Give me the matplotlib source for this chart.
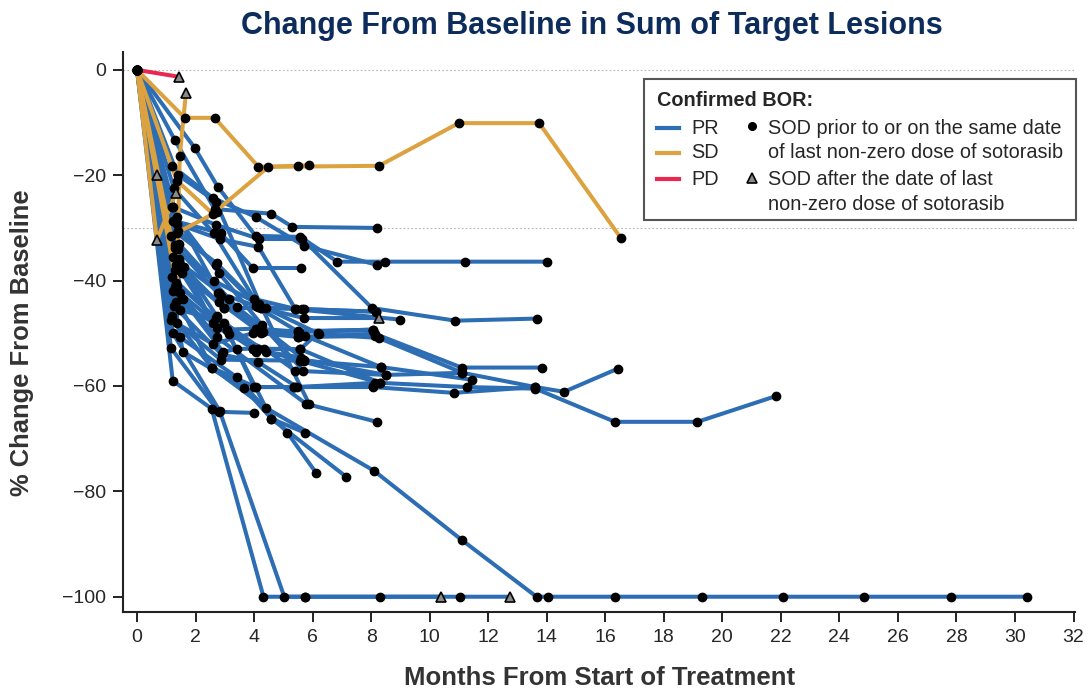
import matplotlib.pyplot as plt
from matplotlib.lines import Line2D
from matplotlib.patches import Rectangle

# ---------------------
# DATA  (months from start, % change from baseline)
# ---------------------
pr_months = [
    [0, 1.29, 2.65, 4.59, 5.31, 8.20],
    [0, 1.97, 2.76, 4.05, 5.58, 6.84, 8.47, 11.22, 14.01],
    [0, 1.19, 2.59, 4.05, 5.71, 8.20],
    [0, 1.22, 2.69, 4.18, 5.65, 8.03, 10.88, 13.67],
    [0, 1.22, 2.86, 3.95, 5.61],
    [0, 1.36, 2.82, 4.15, 5.41, 8.98],
    [0, 1.36, 2.72, 4.25, 5.71, 8.27],
    [0, 1.29, 2.76, 4.05, 5.51, 8.06],
    [0, 1.39, 2.86, 4.08, 5.51, 8.13, 11.09, 13.84],
    [0, 1.22, 2.96, 4.39, 6.22, 8.27, 11.12, 13.61, 14.59, 16.43],
    [0, 1.43, 2.72, 4.12, 5.58, 8.30, 11.26, 13.61, 16.33, 19.15, 21.84],
    [0, 1.60, 2.59, 3.95, 5.71, 8.33, 11.43],
    [0, 1.53, 2.72, 4.35, 5.41, 8.50],
    [0, 1.19, 3.06, 4.01, 5.37, 8.06, 10.82, 13.61],
    [0, 1.46, 3.13, 4.59, 5.75],
    [0, 1.22, 2.55, 4.32, 5.74, 8.29, 10.39],
    [0, 1.16, 2.79, 3.98],
    [0, 1.22, 2.82, 5.03, 5.74, 11.05, 12.75],
    [0, 1.19, 2.55, 4.39, 8.10, 11.09, 13.65, 14.05, 16.34, 19.32, 22.08, 24.84, 27.82, 30.41],
    [0, 1.29, 2.72, 5.78, 8.20],
    [0, 1.46, 3.40, 5.14, 6.12],
    [0, 1.56, 3.64, 4.59, 7.14],
    [0, 1.39, 2.69, 4.25, 5.88],
    [0, 1.33, 2.96, 4.25, 5.71, 8.16],
    [0, 1.33, 3.06, 4.08, 5.54, 8.06],
    [0, 1.56, 2.93, 3.40, 3.95, 5.58, 6.19],
    [0, 1.39, 2.69, 4.15, 5.65, 8.16],
    [0, 1.29, 2.79, 4.25, 5.51, 8.13],
    [0, 1.46, 2.96, 4.39, 5.61],
    [0, 1.22, 2.55, 4.05, 5.37, 8.06],
    [0, 1.36, 2.86, 5.58, 8.30],
    [0, 1.43, 3.40, 5.71, 8.50, 11.12],
    [0, 1.26, 2.62, 4.01, 5.44],
    [0, 1.19, 2.79, 4.22, 5.58],
    [0, 1.33, 2.69, 4.08],
    [0, 1.16, 2.59, 3.95, 5.51, 8.06],
    [0, 1.43, 3.13, 4.32, 5.75, 8.33],
    [0, 1.29, 2.62, 4.18],
    [0, 1.36, 2.79, 4.28, 5.68],
    [0, 1.26, 2.89, 4.15, 5.47, 8.13],
]
pr_change = [
    [0, -13.3, -26.4, -27.3, -29.8, -30.0],
    [0, -14.8, -22.2, -31.5, -31.7, -36.4, -36.4, -36.4, -36.4],
    [0, -18.2, -24.3, -27.9, -33.4, -37.0],
    [0, -26.0, -29.4, -32.1, -32.1, -45.2, -47.6, -47.2],
    [0, -28.6, -31.0, -37.6, -37.6],
    [0, -29.2, -32.1, -33.6, -45.4, -47.4],
    [0, -31.0, -36.7, -45.2, -47.1, -47.1],
    [0, -33.2, -42.3, -44.8, -49.7, -49.3],
    [0, -34.0, -43.0, -49.1, -50.7, -50.1, -56.5, -56.5],
    [0, -35.5, -45.2, -45.2, -50.1, -50.9, -57.5, -60.2, -61.1, -56.7],
    [0, -35.9, -46.7, -53.0, -53.0, -59.4, -60.2, -60.5, -66.8, -66.8, -61.9],
    [0, -37.4, -48.0, -52.9, -55.2, -56.4, -58.8],
    [0, -38.5, -49.0, -52.9, -57.1, -57.9],
    [0, -39.3, -49.3, -60.2, -60.2, -60.2, -61.3, -60.2],
    [0, -42.3, -50.1, -66.2, -68.9],
    [0, -59.0, -64.3, -100, -100, -100, -100],
    [0, -52.8, -64.9, -65.1],
    [0, -49.9, -64.7, -100, -100, -100, -100],
    [0, -46.7, -56.5, -64.1, -76.1, -89.2, -100, -100, -100, -100, -100, -100, -100, -100],
    [0, -41.2, -50.7, -63.4, -66.8],
    [0, -50.7, -58.3, -68.9, -76.5],
    [0, -53.5, -60.3, -66.2, -77.2],
    [0, -19.9, -25.0, -45.0, -63.4],
    [0, -37.0, -45.2, -45.2, -45.4, -45.9],
    [0, -44.0, -49.3, -49.1, -49.7, -49.3],
    [0, -43.5, -53.5, -53.0, -52.9, -53.0, -49.9],
    [0, -30.5, -37.0, -45.0, -45.4, -45.9],
    [0, -38.0, -44.0, -50.0, -50.7, -50.5],
    [0, -45.5, -48.0, -53.5, -54.6],
    [0, -42.0, -56.5, -60.2, -60.2, -60.0],
    [0, -48.0, -55.0, -55.2, -59.4],
    [0, -33.0, -45.0, -55.0, -57.9, -57.5],
    [0, -22.5, -31.0, -43.5, -45.4],
    [0, -26.0, -42.3, -49.5, -50.5],
    [0, -40.5, -47.0, -53.5],
    [0, -47.5, -52.0, -50.0, -49.5, -49.5],
    [0, -36.5, -43.5, -49.8, -50.5, -56.4],
    [0, -33.8, -40.0, -44.5],
    [0, -28.0, -38.5, -48.5, -57.1],
    [0, -44.8, -54.0, -55.5, -60.2, -59.4],
]
# index of first assessment after the last non-zero dose (None = all on treatment)
pr_after = [None] * len(pr_months)
pr_after[6] = 5
pr_after[15] = 6
pr_after[17] = 6

sd_months = [
    [0, 1.63, 2.65, 4.15, 5.51, 5.88],
    [0, 1.36, 2.59, 4.49, 8.27, 10.99, 13.74, 16.53],
    [0, 0.68],
    [0, 0.68, 1.33],
    [0, 1.36, 1.46, 1.67],
    [0, 1.16, 2.72],
]
sd_change = [
    [0, -9.1, -9.1, -18.4, -18.2, -18.0],
    [0, -21.0, -27.3, -18.4, -18.2, -10.1, -10.1, -31.9],
    [0, -19.9],
    [0, -32.3, -23.3],
    [0, -41.0, -16.3, -4.4],
    [0, -31.5, -27.0],
]
sd_after = [None, None, 1, 1, 3, None]

pd_months = [[0, 1.43]]
pd_change = [[0, -1.3]]
pd_after = [1]

x_ticks = list(range(0, 33, 2))
y_ticks = [0, -20, -40, -60, -80, -100]

# ---------------------
# STYLE
# ---------------------
PR_COL = '#2c6db3'
SD_COL = '#dca23f'
PD_COL = '#e8284f'
TXT = '#262626'

plt.rcParams['font.family'] = ['Liberation Sans', 'DejaVu Sans']

W, H = 1088, 689
fig = plt.figure(figsize=(W / 100, H / 100), dpi=100)
ax = fig.add_axes([123 / W, 1 - 612 / H, (1075 - 123) / W, (612 - 52) / H])


def draw_group(months, change, color, z):
    for xs, ys in zip(months, change):
        ax.plot(xs, ys, color=color, lw=2.9, solid_capstyle='round', zorder=z)


def draw_marks(months, change, after):
    for xs, ys, a in zip(months, change, after):
        cut = len(xs) if a is None else a
        ax.plot(xs[:cut], ys[:cut], ls='none', marker='o', ms=6,
                color='black', zorder=10)
        if cut < len(xs):
            ax.plot(xs[cut:], ys[cut:], ls='none', marker='^', ms=7.5,
                    mfc='#8a8a8a', mec='black', mew=1.2, zorder=11)


draw_group(pr_months, pr_change, PR_COL, 3)
draw_group(sd_months, sd_change, SD_COL, 4)
draw_group(pd_months, pd_change, PD_COL, 5)
draw_marks(pr_months, pr_change, pr_after)
draw_marks(sd_months, sd_change, sd_after)
draw_marks(pd_months, pd_change, pd_after)

# reference lines
for yv in (0, -30):
    ax.axhline(yv, color='#b5b5b5', lw=0.8, ls=(0, (1.5, 2)), zorder=1)

ax.set_xlim(-0.48, 32.05)
ax.set_ylim(-102.9, 3.4)
ax.set_xticks(x_ticks)
ax.set_yticks(y_ticks)
ax.set_yticklabels([str(v).replace('-', '\u2212') for v in y_ticks])
for s in ('top', 'right'):
    ax.spines[s].set_visible(False)
for s in ('left', 'bottom'):
    ax.spines[s].set_linewidth(1.5)
    ax.spines[s].set_color('#222222')
ax.tick_params(axis='both', length=7, width=1.4, color='#222222',
               labelsize=14, labelcolor=TXT, pad=5)

# titles / labels
fig.text(592 / W, 1 - 26 / H, 'Change From Baseline in Sum of Target Lesions',
         ha='center', va='center', fontsize=22, fontweight='bold', color='#0c2c5c')
fig.text(600 / W, 1 - 678 / H, 'Months From Start of Treatment',
         ha='center', va='center', fontsize=18.5, fontweight='bold', color='#333333')
fig.text(22 / W, 1 - 343 / H, '% Change From Baseline', rotation=90,
         ha='center', va='center', fontsize=18.4, fontweight='bold', color='#333333')

# ---------------------
# LEGEND (drawn by hand)
# ---------------------
def fx(px):
    return px / W


def fy(py):
    return 1 - py / H


fig.patches.append(Rectangle((fx(644), fy(220)), fx(1076) - fx(644), fy(79) - fy(220),
                             transform=fig.transFigure, fc='white', ec='#555555',
                             lw=1.5, zorder=20))
fig.text(fx(657), fy(100), 'Confirmed BOR:', fontsize=14.3, fontweight='bold',
         color=TXT, va='center', zorder=21)
for lab, col, py in (('PR', PR_COL, 128), ('SD', SD_COL, 153), ('PD', PD_COL, 179)):
    fig.lines.append(Line2D([fx(657), fx(679)], [fy(py), fy(py)], color=col, lw=3,
                            transform=fig.transFigure, zorder=21))
    fig.text(fx(691), fy(py), lab, fontsize=14.3, color=TXT, va='center', zorder=21)
fig.lines.append(Line2D([fx(752)], [fy(126)], ls='none', marker='o', ms=5.5, color='black',
                        transform=fig.transFigure, zorder=21))
fig.lines.append(Line2D([fx(752)], [fy(178)], ls='none', marker='^', ms=7.5,
                        mfc='#8a8a8a', mec='black', mew=1.2,
                        transform=fig.transFigure, zorder=21))
for txt, py in (('SOD prior to or on the same date', 128),
                ('of last non-zero dose of sotorasib', 153),
                ('SOD after the date of last', 179),
                ('non-zero dose of sotorasib', 204)):
    fig.text(fx(768), fy(py), txt, fontsize=14.3, color=TXT, va='center', zorder=21)

fig.savefig('out.png', dpi=100, facecolor='white')
